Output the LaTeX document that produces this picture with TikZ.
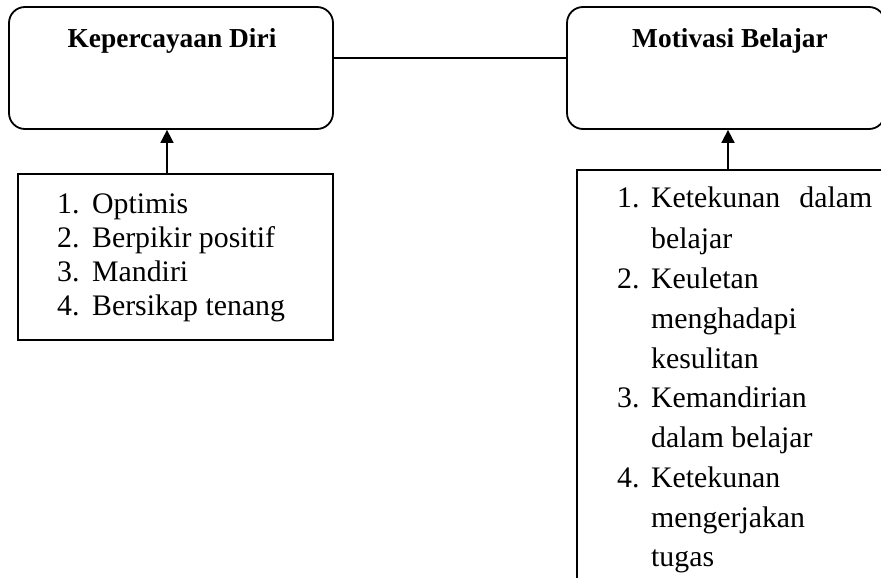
\documentclass[tikz,border=0pt]{standalone}
\usepackage{fontspec}
\setmainfont{Liberation Serif}
\usetikzlibrary{arrows.meta}
\tikzset{
  titlebox/.style={draw, line width=1.8pt, rounded corners=16pt, inner sep=0pt},
  listbox/.style={draw, line width=1.8pt, inner sep=0pt},
  titletext/.style={anchor=base, inner sep=0pt, font=\fontsize{27.4}{32}\selectfont\bfseries},
  itemtext/.style={anchor=base west, inner sep=0pt, font=\fontsize{29.8}{34}\selectfont},
  link/.style={line width=1.8pt},
  arr/.style={line width=1.8pt, -{Triangle[width=13pt,length=13pt]}}
}
\begin{document}
\begin{tikzpicture}[x=1pt,y=-1pt]
\useasboundingbox (0,0) rectangle (881,578);
\clip (0,0) rectangle (881,578);
\fill[white] (0,0) rectangle (881,578);
% title boxes
\node[titlebox, minimum width=324pt, minimum height=122pt] (kd) at (171,68) {};
\node[titlebox, minimum width=318pt, minimum height=122pt] (mb) at (726,68) {};
\node[titletext] (kdt) at (172,48) {Kepercayaan Diri};
\node[titletext] (mbt) at (730,48) {Motivasi Belajar};
% connector
\draw[link] ([yshift=10pt]kd.east) -- ([yshift=10pt]mb.west);
% left list
\node[listbox, minimum width=315pt, minimum height=166pt] (ll) at (175.5,257) {};
\node[itemtext] (l1n) at (57,213) {1.};
\node[itemtext] (l1) at (92,213) {Optimis};
\node[itemtext] (l2n) at (57,247) {2.};
\node[itemtext] (l2) at (92,247) {Berpikir positif};
\node[itemtext] (l3n) at (57,281) {3.};
\node[itemtext] (l3) at (92,281) {Mandiri};
\node[itemtext] (l4n) at (57,315) {4.};
\node[itemtext] (l4) at (92,315) {Bersikap tenang};
\draw[arr] ([xshift=-8.5pt]ll.north) -- ([xshift=-8.5pt]ll.north |- kd.south);
% right list
\node[listbox, minimum width=313pt, minimum height=440pt] (rl) at (733.5,390) {};
\node[itemtext] (r1n) at (617,207) {1.};
\node[itemtext] (r1) at (651,207) {\makebox[221pt][s]{Ketekunan dalam}};
\node[itemtext] (r1b) at (651,248) {belajar};
\node[itemtext] (r2n) at (617,288) {2.};
\node[itemtext] (r2) at (651,288) {Keuletan};
\node[itemtext] (r2b) at (651,328) {menghadapi};
\node[itemtext] (r2c) at (651,368) {kesulitan};
\node[itemtext] (r3n) at (617,407) {3.};
\node[itemtext] (r3) at (651,407) {Kemandirian};
\node[itemtext] (r3b) at (651,447) {dalam belajar};
\node[itemtext] (r4n) at (617,487) {4.};
\node[itemtext] (r4) at (651,487) {Ketekunan};
\node[itemtext] (r4b) at (651,527) {mengerjakan};
\node[itemtext] (r4c) at (651,566) {tugas};
\draw[arr] ([xshift=-5.5pt]rl.north) -- ([xshift=-5.5pt]rl.north |- mb.south);
\end{tikzpicture}
\end{document}
